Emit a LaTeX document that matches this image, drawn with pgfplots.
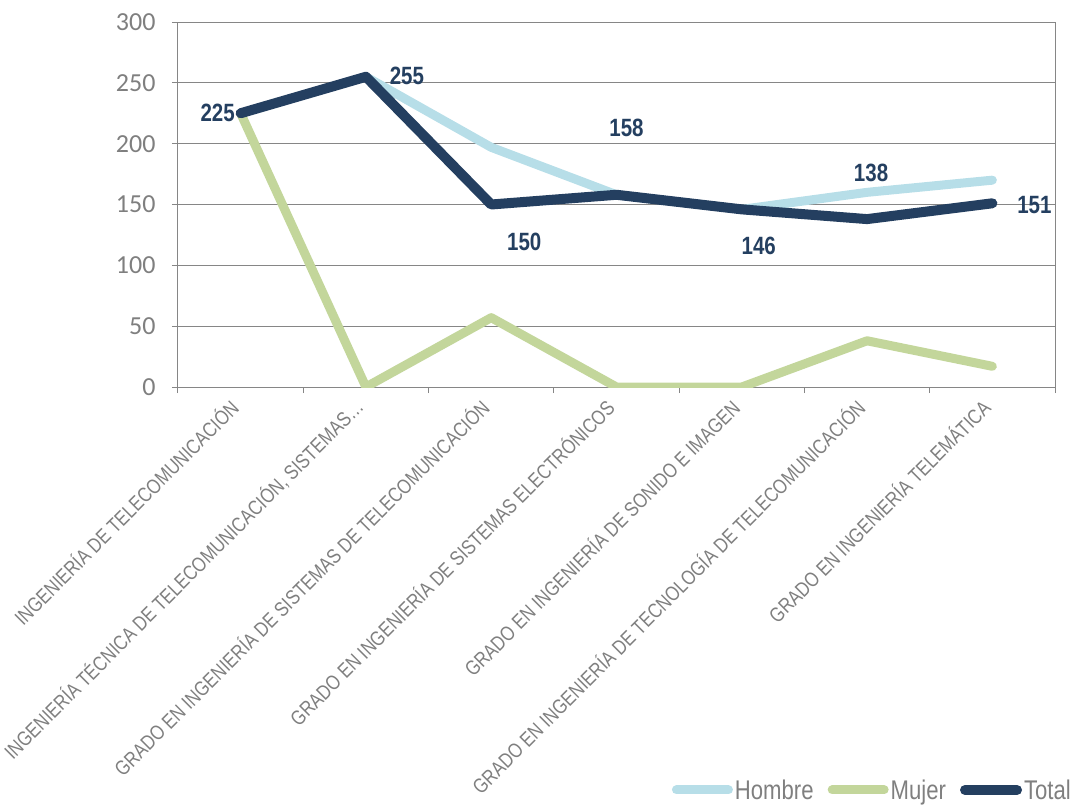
\documentclass[border=0pt]{standalone}
\usepackage{pgfplots}
\pgfplotsset{compat=1.18}
\usepackage{pgfplotstable}
\usepackage{fontspec}
\setmainfont{Carlito}
\newfontfamily\narrow[FakeStretch=0.82]{Liberation Sans}
\definecolor{hombre}{HTML}{B7DEE8}
\definecolor{mujer}{HTML}{C3D69B}
\definecolor{total}{HTML}{243F60}
\definecolor{axgray}{HTML}{868686}
\definecolor{txtgray}{HTML}{7F7F7F}

\pgfplotstableread{
x y
2 255
3 197
4 158
5 146
6 160
7 170
}\hombretab

\pgfplotstableread{
x y
1 225
2 0
3 57
4 0
5 0
6 38
7 17
}\mujertab

\pgfplotstableread{
x y dx dy
1 225 -23 0
2 255 41 1
3 150 33 -37
4 158 10 67
5 146 17 -37
6 138 4 46
7 151 42 -2
}\totaltab

\begin{document}
\begin{tikzpicture}
\useasboundingbox (-178bp,-424bp) rectangle (895bp,387bp);
\begin{axis}[
  at={(0,0)}, anchor=south west,
  width=877bp, height=365bp, scale only axis,
  xmin=0.5, xmax=7.5, ymin=0, ymax=300,
  ytick={0,50,...,300},
  xtick={0.5,1.5,...,7.5}, xticklabels={},
  extra x ticks={1,2,3,4,5,6,7},
  extra x tick labels={INGENIERÍA DE TELECOMUNICACIÓN, {INGENIERÍA TÉCNICA DE TELECOMUNICACIÓN, SISTEMAS\dots}, GRADO EN INGENIERÍA DE SISTEMAS DE TELECOMUNICACIÓN, GRADO EN INGENIERÍA DE SISTEMAS ELECTRÓNICOS, GRADO EN INGENIERÍA DE SONIDO E IMAGEN, GRADO EN INGENIERÍA DE TECNOLOGÍA DE TELECOMUNICACIÓN, GRADO EN INGENIERÍA TELEMÁTICA},
  extra x tick style={major tick length=0pt, grid=none},
  xtick pos=bottom, ytick pos=left,
  tick align=outside, major tick length=6bp,
  tick style={color=axgray, line width=1bp},
  axis line style={axgray, line width=1bp},
  ymajorgrids, grid style={axgray, line width=1bp},
  /pgf/number format/assume math mode=true,
  yticklabel style={font=\fontsize{26bp}{30bp}\selectfont, text=txtgray, xshift=-13bp},
  xticklabel style={xshift=-5bp, yshift=-15bp, font=\narrow\fontsize{20.6bp}{24bp}\selectfont, text=txtgray, rotate=45, anchor=east, inner sep=2bp},
  legend style={at={(1.0205,-1.104)}, anchor=east, draw=none, fill=none,
    legend columns=3, font=\narrow\fontsize{27bp}{30bp}\selectfont, text=txtgray,
    /tikz/every even column/.append style={column sep=12bp}, inner sep=0pt},
  legend image code/.code={\draw[#1, line cap=round] (0bp,0bp) -- (52bp,0bp);},
]
\addplot[hombre, line width=9bp, line cap=round, line join=round] table[x=x,y=y] {\hombretab};
\addlegendentry{Hombre}
\addplot[mujer, line width=9bp, line cap=round, line join=round] table[x=x,y=y] {\mujertab};
\addlegendentry{Mujer}
\addplot[total, line width=10bp, line cap=round, line join=round,
  nodes near coords, point meta=y,
  visualization depends on={\thisrow{dx} \as \dx},
  visualization depends on={\thisrow{dy} \as \dy},
  every node near coord/.append style={anchor=center, xshift=\dx bp, yshift=\dy bp,
    font=\narrow\bfseries\fontsize{25bp}{30bp}\selectfont, text=total}]
  table[x=x,y=y] {\totaltab};
\addlegendentry{Total}
\end{axis}
\end{tikzpicture}
\end{document}
